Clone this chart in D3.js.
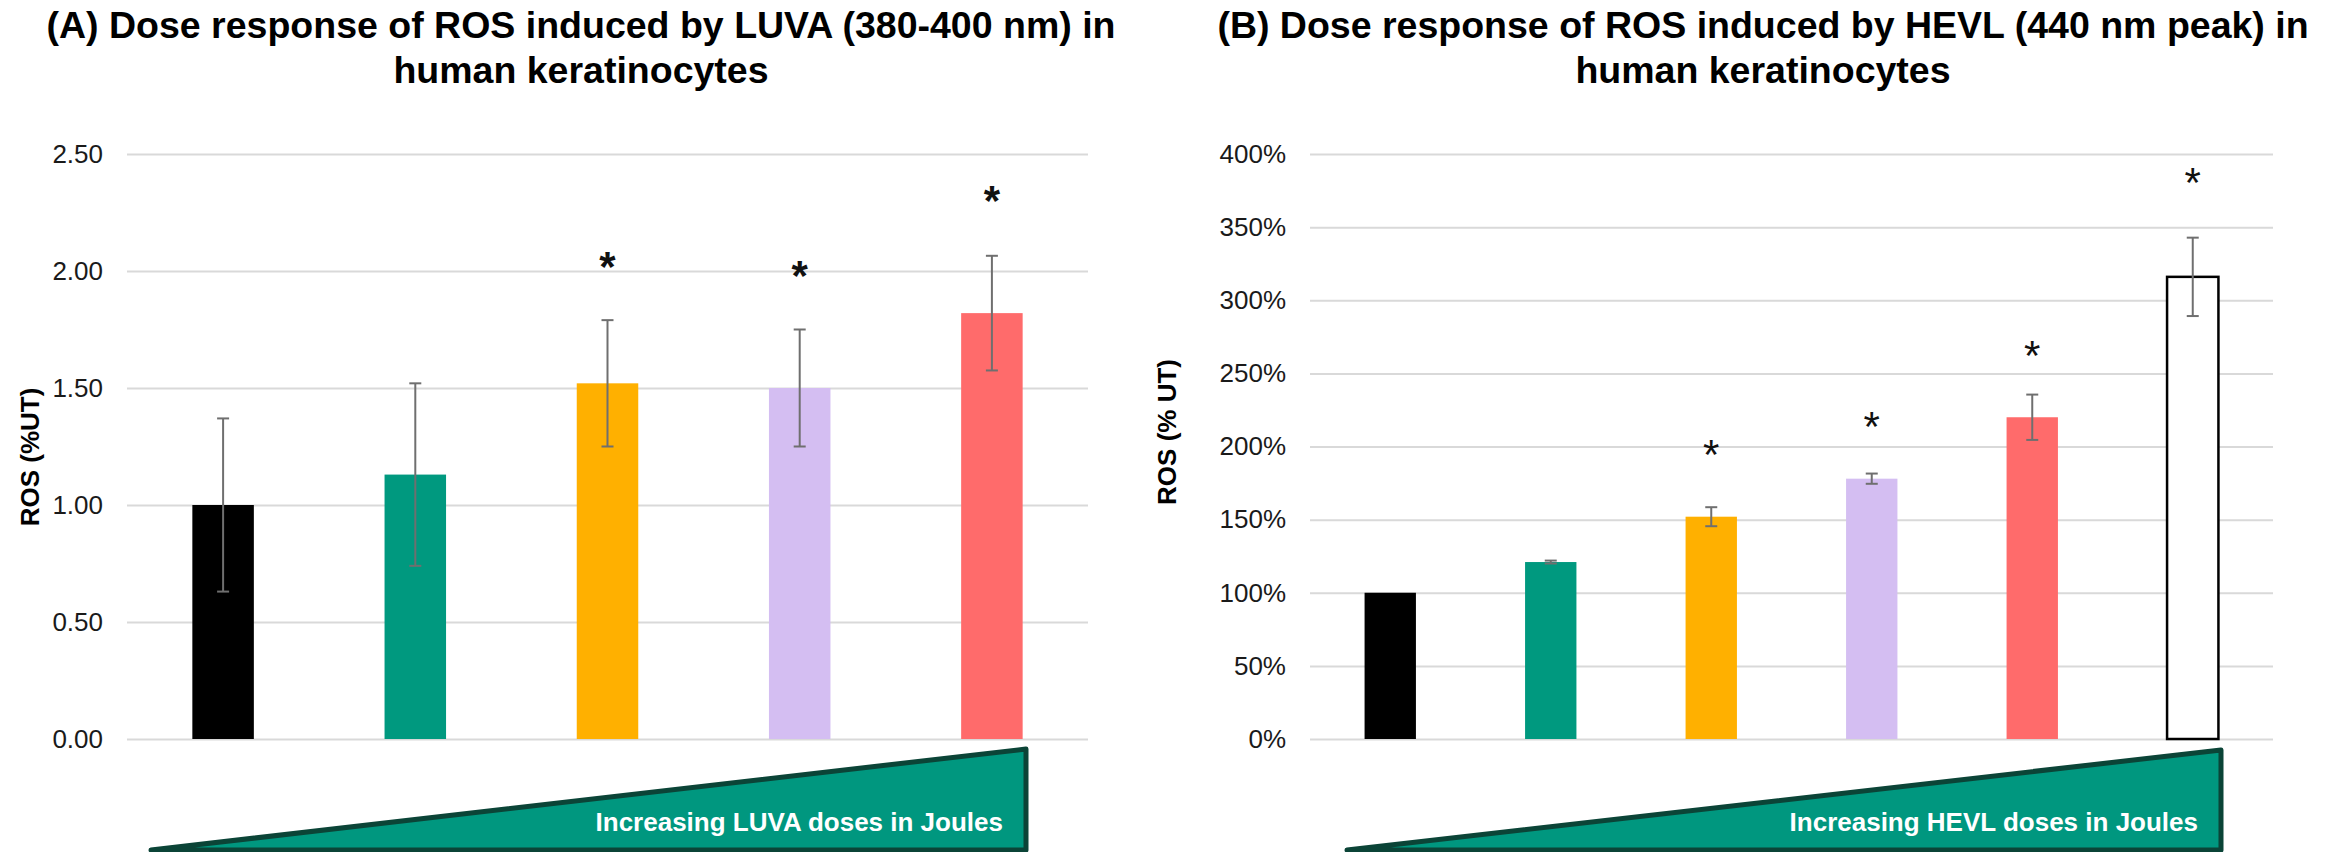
<!DOCTYPE html>
<html><head><meta charset="utf-8">
<script src="https://cdn.jsdelivr.net/npm/d3@7"></script>
<style>
html,body{margin:0;padding:0;background:#fff;}
svg{display:block;font-family:"Liberation Sans",Arial,Helvetica,sans-serif;}
</style></head>
<body>
<svg id="chart" width="2328" height="852"></svg>
<script>
// ---------- DATA ----------
const titleA = ["(A) Dose response of ROS induced by LUVA (380-400 nm) in", "human keratinocytes"];
const titleB = ["(B) Dose response of ROS induced by HEVL (440 nm peak) in", "human keratinocytes"];
const yLabelA = "ROS (%UT)";
const yLabelB = "ROS (% UT)";
const doseLabelA = "Increasing LUVA doses in Joules";
const doseLabelB = "Increasing HEVL doses in Joules";

const categoriesA = ["UT", "Dose 1", "Dose 2", "Dose 3", "Dose 4"];
const valuesA = [1.00, 1.13, 1.52, 1.50, 1.82];
const errorsA = [0.37, 0.39, 0.27, 0.25, 0.245];
const starsA = [null, null, 2.06, 2.02, 2.34];   // asterisk centre heights
const colorsA = ["#000000", "#00997F", "#FFB000", "#D4BEF2", "#FF6B6B"];
const ticksA = [0, 0.5, 1.0, 1.5, 2.0, 2.5];

const categoriesB = ["UT", "Dose 1", "Dose 2", "Dose 3", "Dose 4", "Dose 5"];
const valuesB = [100, 121, 152, 178, 220, 316];
const errorsB = [0, 1, 6.5, 3.5, 15.5, 26.8];
const starsB = [null, null, 201, 220, 269, 387];
const colorsB = ["#000000", "#00997F", "#FFB000", "#D4BEF2", "#FF6B6B", "#FFFFFF"];
const ticksB = [0, 50, 100, 150, 200, 250, 300, 350, 400];

// ---------- LAYOUT ----------
const svg = d3.select("#chart");
const FONT_TITLE = 37.5, FONT_TICK = 26, FONT_YLAB = 26, FONT_STAR = 42, FONT_DOSE = 26;
const plotTop = 154, plotBottom = 739;

function panel(cfg) {
  const g = svg.append("g");
  cfg.title.forEach((t, i) => {
    g.append("text").attr("x", cfg.titleX).attr("y", 38 + i * 45)
      .attr("text-anchor", "middle").attr("font-weight", "bold")
      .attr("font-size", FONT_TITLE).attr("fill", "#000").text(t);
  });

  const x = d3.scaleBand().domain(cfg.cats).range([cfg.left, cfg.right])
    .paddingInner(0.68).paddingOuter(0.34);
  const y = d3.scaleLinear().domain(cfg.domain).range([plotBottom, plotTop]);

  const ax = g.append("g").attr("transform", `translate(${cfg.left},0)`)
    .call(d3.axisLeft(y).tickValues(cfg.ticks).tickFormat(cfg.fmt)
      .tickSize(-(cfg.right - cfg.left)).tickPadding(24));
  ax.select(".domain").remove();
  ax.selectAll(".tick line").attr("stroke", "#d9d9d9").attr("stroke-width", 2);
  ax.selectAll(".tick text").attr("font-size", FONT_TICK).attr("fill", "#1a1a1a")
    .attr("font-family", "'Liberation Sans',Arial,sans-serif");

  g.append("text").attr("transform", `translate(${cfg.ylabX},${cfg.ylabY}) rotate(-90)`)
    .attr("text-anchor", "middle").attr("dominant-baseline", "central")
    .attr("font-weight", "bold").attr("font-size", FONT_YLAB).attr("fill", "#000")
    .text(cfg.ylab);

  g.selectAll("rect.bar").data(cfg.vals).join("rect").attr("class", "bar")
    .attr("x", (d, i) => x(cfg.cats[i]))
    .attr("width", x.bandwidth())
    .attr("y", d => y(d))
    .attr("height", d => y(0) - y(d))
    .attr("fill", (d, i) => cfg.colors[i])
    .attr("stroke", (d, i) => cfg.colors[i] === "#FFFFFF" ? "#000" : "none")
    .attr("stroke-width", 2.5);

  const eb = g.selectAll("g.err").data(cfg.vals.map((v, i) => ({v, e: cfg.errs[i], c: cfg.cats[i]})).filter(d => d.e > 0))
    .join("g").attr("class", "err");
  const cx = d => x(d.c) + x.bandwidth() / 2;
  eb.append("line").attr("x1", cx).attr("x2", cx)
    .attr("y1", d => y(d.v + d.e)).attr("y2", d => y(d.v - d.e))
    .attr("stroke", "#6f6f6f").attr("stroke-width", 2);
  [1, -1].forEach(s => {
    eb.append("line").attr("x1", d => cx(d) - 6).attr("x2", d => cx(d) + 6)
      .attr("y1", d => y(d.v + s * d.e)).attr("y2", d => y(d.v + s * d.e))
      .attr("stroke", "#6f6f6f").attr("stroke-width", 2);
  });

  g.selectAll("text.star").data(cfg.stars.map((s, i) => ({s, c: cfg.cats[i]})).filter(d => d.s !== null))
    .join("text").attr("class", "star")
    .attr("x", d => x(d.c) + x.bandwidth() / 2)
    .attr("y", d => y(d.s) + FONT_STAR * 0.57)
    .attr("text-anchor", "middle").attr("font-size", FONT_STAR)
    .attr("font-weight", cfg.starBold ? "bold" : "normal").attr("fill", "#111")
    .text("*");

  const tri = [[cfg.triL, 850], [cfg.triR, cfg.triTop], [cfg.triR, 850]];
  g.append("path").attr("d", d3.line()(tri) + "Z")
    .attr("fill", "#00977F").attr("stroke", "#0b4437").attr("stroke-width", 5)
    .attr("stroke-linejoin", "round");
  g.append("text").attr("x", cfg.triR - 23).attr("y", 831)
    .attr("text-anchor", "end").attr("font-weight", "bold").attr("font-size", FONT_DOSE)
    .attr("fill", "#fff").text(cfg.dose);
}

panel({
  title: titleA, titleX: 581, cats: categoriesA, vals: valuesA, errs: errorsA, stars: starsA,
  colors: colorsA, ticks: ticksA, domain: [0, 2.5], fmt: d3.format(".2f"),
  left: 127, right: 1088, ylab: yLabelA, ylabX: 30, ylabY: 457, starBold: true,
  triL: 151, triR: 1026, triTop: 749, dose: doseLabelA
});
panel({
  title: titleB, titleX: 1763, cats: categoriesB, vals: valuesB, errs: errorsB, stars: starsB,
  colors: colorsB, ticks: ticksB, domain: [0, 400], fmt: d => d + "%",
  left: 1310, right: 2273, ylab: yLabelB, ylabX: 1167, ylabY: 432, starBold: false,
  triL: 1347, triR: 2221, triTop: 750, dose: doseLabelB
});
</script>
</body></html>
